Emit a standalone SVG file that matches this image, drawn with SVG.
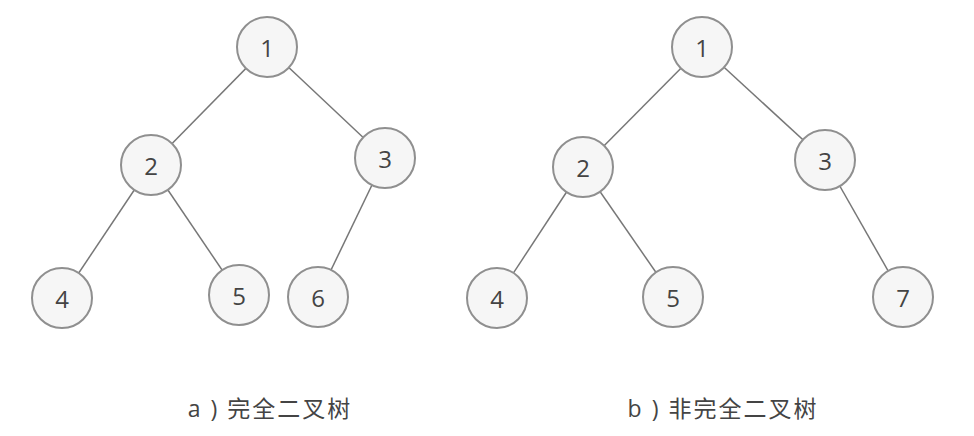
<svg xmlns="http://www.w3.org/2000/svg" width="974" height="436" viewBox="0 0 974 436">
<style>
.n circle{fill:#f6f6f6;stroke:#8f8f8f;stroke-width:2}
.n text{font-family:"Open Sans","Liberation Sans",sans-serif;font-size:24px;fill:#444;text-anchor:middle;dominant-baseline:central}
.e line{stroke:#777;stroke-width:1.5}
.cap{font-family:"Open Sans","Noto Sans CJK SC",sans-serif;font-size:23px;letter-spacing:2px;fill:#444;text-anchor:middle}
</style>
<rect width="974" height="436" fill="#fff"/>
<g id="connectors" class="e">
<line x1="267" y1="47" x2="151" y2="165"/><line x1="267" y1="47" x2="385" y2="158"/>
<line x1="151" y1="165" x2="62" y2="298"/><line x1="151" y1="165" x2="239" y2="295"/>
<line x1="385" y1="158" x2="318" y2="297"/>
<line x1="702" y1="47" x2="583" y2="167"/><line x1="702" y1="47" x2="825" y2="160"/>
<line x1="583" y1="167" x2="497" y2="298"/><line x1="583" y1="167" x2="673" y2="297"/>
<line x1="825" y1="160" x2="903" y2="297"/>
</g>
<g id="a1" class="n"><circle cx="267" cy="47" r="30"/><text x="267" y="47">1</text></g>
<g id="a2" class="n"><circle cx="151" cy="165" r="30"/><text x="151" y="165">2</text></g>
<g id="a3" class="n"><circle cx="385" cy="158" r="30"/><text x="385" y="158">3</text></g>
<g id="a4" class="n"><circle cx="62" cy="298" r="30"/><text x="62" y="298">4</text></g>
<g id="a5" class="n"><circle cx="239" cy="295" r="30"/><text x="239" y="295">5</text></g>
<g id="a6" class="n"><circle cx="318" cy="297" r="30"/><text x="318" y="297">6</text></g>
<g id="b1" class="n"><circle cx="702" cy="47" r="30"/><text x="702" y="47">1</text></g>
<g id="b2" class="n"><circle cx="583" cy="167" r="30"/><text x="583" y="167">2</text></g>
<g id="b3" class="n"><circle cx="825" cy="160" r="30"/><text x="825" y="160">3</text></g>
<g id="b4" class="n"><circle cx="497" cy="298" r="30"/><text x="497" y="298">4</text></g>
<g id="b5" class="n"><circle cx="673" cy="297" r="30"/><text x="673" y="297">5</text></g>
<g id="b7" class="n"><circle cx="903" cy="297" r="30"/><text x="903" y="297">7</text></g>
<text class="cap" x="270" y="417">a ) 完全二叉树</text>
<text class="cap" x="723" y="417">b ) 非完全二叉树</text>
</svg>
